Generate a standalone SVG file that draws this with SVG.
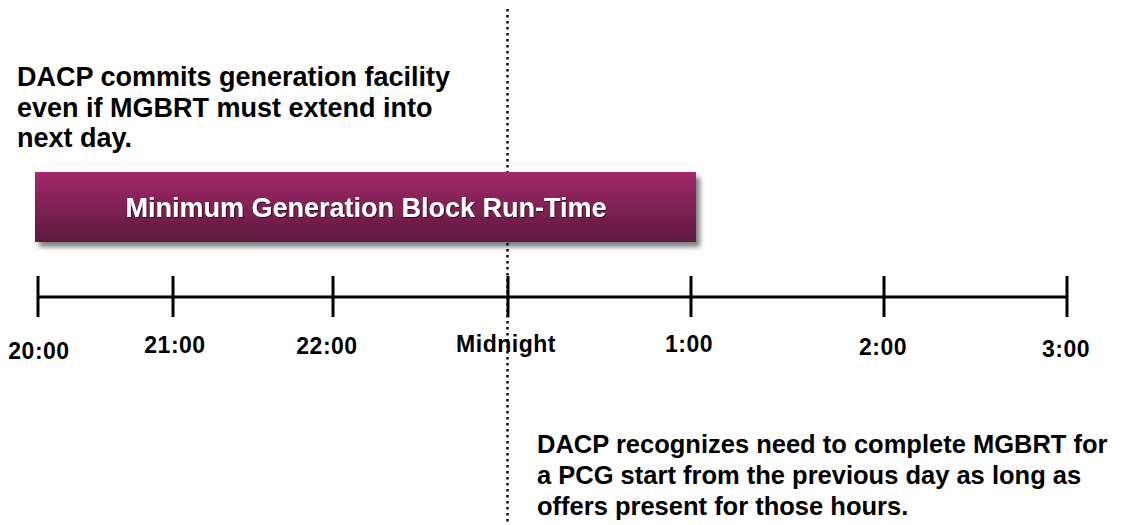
<svg xmlns="http://www.w3.org/2000/svg" width="1145" height="525" viewBox="0 0 1145 525">
<style>
.t{font-family:"Liberation Sans",Arial,sans-serif;font-weight:bold;fill:#000}
.lbl{font-size:23px;text-anchor:middle;letter-spacing:0.5px}
.tick{stroke:#000;stroke-width:3}
</style>
<defs>
<linearGradient id="g" x1="0" y1="0" x2="0" y2="1">
<stop offset="0" stop-color="#a2296a"/>
<stop offset="1" stop-color="#5c1a3e"/>
</linearGradient>
<filter id="sh" x="-5%" y="-20%" width="115%" height="150%">
<feGaussianBlur in="SourceAlpha" stdDeviation="2.5"/>
<feOffset dx="4" dy="5" result="b"/>
<feComponentTransfer><feFuncA type="linear" slope="0.5"/></feComponentTransfer>
<feMerge><feMergeNode/><feMergeNode in="SourceGraphic"/></feMerge>
</filter>
<filter id="ts" x="-5%" y="-20%" width="110%" height="150%">
<feOffset in="SourceAlpha" dx="1" dy="1" result="o"/>
<feComponentTransfer in="o"><feFuncA type="linear" slope="0.6"/></feComponentTransfer>
<feMerge><feMergeNode/><feMergeNode in="SourceGraphic"/></feMerge>
</filter>
</defs>
<rect width="1145" height="525" fill="#fff"/>
<g id="connectors">
<line x1="507.5" y1="9" x2="507.5" y2="525" stroke="#000" stroke-width="2.4" stroke-dasharray="2.4,3.6"/>
</g>
<g id="note-top">
<text class="t" font-size="27" x="17" y="86">DACP commits generation facility</text>
<text class="t" font-size="27" x="17" y="117">even if MGBRT must extend into</text>
<text class="t" font-size="27" x="17" y="147">next day.</text>
</g>
<g id="mgbrt-block">
<rect x="35" y="172" width="661" height="70" fill="url(#g)" filter="url(#sh)"/>
<text class="t" font-size="27" x="366" y="217" text-anchor="middle" style="fill:#fff" filter="url(#ts)">Minimum Generation Block Run-Time</text>
</g>
<g id="timeline">
<line x1="38" y1="297" x2="1067" y2="297" stroke="#000" stroke-width="3"/>
<line class="tick" x1="38" y1="276" x2="38" y2="317"/>
<line class="tick" x1="173" y1="276" x2="173" y2="317"/>
<line class="tick" x1="333" y1="276" x2="333" y2="317"/>
<line class="tick" x1="508" y1="276" x2="508" y2="317"/>
<line class="tick" x1="691" y1="276" x2="691" y2="317"/>
<line class="tick" x1="884" y1="276" x2="884" y2="317"/>
<line class="tick" x1="1067" y1="276" x2="1067" y2="317"/>
</g>
<g id="labels">
<text class="t lbl" x="39" y="359">20:00</text>
<text class="t lbl" x="175" y="353">21:00</text>
<text class="t lbl" x="327" y="354">22:00</text>
<text class="t lbl" x="506" y="352">Midnight</text>
<text class="t lbl" x="689" y="352">1:00</text>
<text class="t lbl" x="883" y="355">2:00</text>
<text class="t lbl" x="1066" y="357">3:00</text>
</g>
<g id="note-bottom">
<text class="t" font-size="25.5" x="537" y="453">DACP recognizes need to complete MGBRT for</text>
<text class="t" font-size="25.5" x="537" y="484">a PCG start from the previous day as long as</text>
<text class="t" font-size="25.5" x="537" y="515">offers present for those hours.</text>
</g>
</svg>
